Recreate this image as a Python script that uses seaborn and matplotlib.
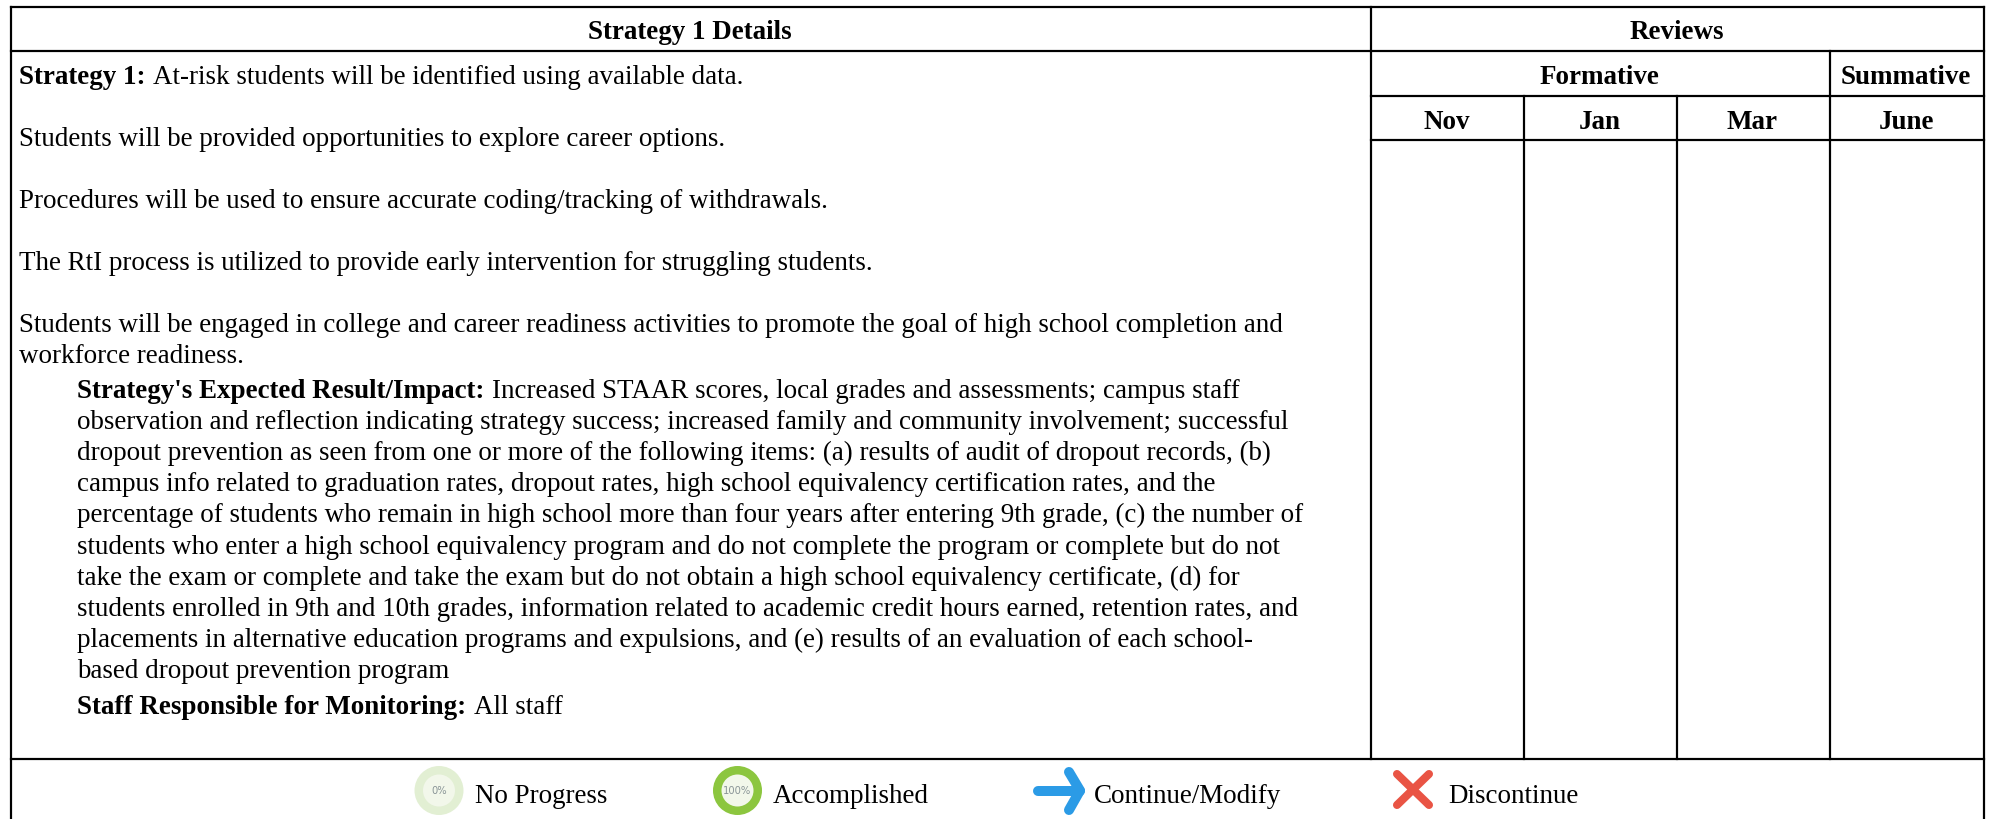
"""Strategy review table drawn on one full-figure axes in pixel coordinates."""

import matplotlib.pyplot as plt
import seaborn as sns
from matplotlib.patches import Circle

WIDTH, HEIGHT = 1993, 819

header_left = "Strategy 1 Details"
header_right = "Reviews"
group_labels = ["Formative", "Summative"]
month_labels = ["Nov", "Jan", "Mar", "June"]

strategy_lines = [
    ("Strategy 1:", "At-risk students will be identified using available data."),
    ("", "Students will be provided opportunities to explore career options."),
    ("", "Procedures will be used to ensure accurate coding/tracking of withdrawals."),
    ("", "The RtI process is utilized to provide early intervention for struggling students."),
    ("", "Students will be engaged in college and career readiness activities to promote the goal of high school completion and"),
    ("", "workforce readiness."),
]
impact_lines = [
    ("Strategy's Expected Result/Impact:", "Increased STAAR scores, local grades and assessments; campus staff"),
    ("", "observation and reflection indicating strategy success; increased family and community involvement; successful"),
    ("", "dropout prevention as seen from one or more of the following items: (a) results of audit of dropout records, (b)"),
    ("", "campus info related to graduation rates, dropout rates, high school equivalency certification rates, and the"),
    ("", "percentage of students who remain in high school more than four years after entering 9th grade, (c) the number of"),
    ("", "students who enter a high school equivalency program and do not complete the program or complete but do not"),
    ("", "take the exam or complete and take the exam but do not obtain a high school equivalency certificate, (d) for"),
    ("", "students enrolled in 9th and 10th grades, information related to academic credit hours earned, retention rates, and"),
    ("", "placements in alternative education programs and expulsions, and (e) results of an evaluation of each school-"),
    ("", "based dropout prevention program"),
]
staff_line = ("Staff Responsible for Monitoring:", "All staff")
legend_labels = ["No Progress", "Accomplished", "Continue/Modify", "Discontinue"]

FONT_SIZE = 19.45
SERIF = "Liberation Serif"

sns.set_theme(style="white")
plt.rcParams["font.family"] = [SERIF, "DejaVu Serif"]

fig = plt.figure(figsize=(WIDTH / 100, HEIGHT / 100), dpi=100, facecolor="white")
ax = fig.add_axes([0, 0, 1, 1])
ax.set_xlim(0, WIDTH)
ax.set_ylim(HEIGHT, 0)
ax.axis("off")
renderer = fig.canvas.get_renderer()


def rule(x0, y0, x1, y1, width=2.2):
    ax.plot([x0, x1], [y0, y1], color="black", lw=width * 0.72, solid_capstyle="projecting")


def mixed_line(x, baseline, bold, regular):
    if bold:
        label = ax.text(x, baseline, bold, fontsize=FONT_SIZE, fontweight="bold", va="baseline", color="black")
        box = label.get_window_extent(renderer)
        x = box.x1 + 8
    ax.text(x, baseline, regular, fontsize=FONT_SIZE, va="baseline", color="black")


# table rules
LEFT, RIGHT, TOP, BOTTOM = 11, 1984, 7, 758.5
rule(LEFT, TOP, RIGHT, TOP)
rule(LEFT, 51, RIGHT, 51)
rule(1371, 96, RIGHT, 96)
rule(1371, 140, RIGHT, 140)
rule(LEFT, BOTTOM, RIGHT, BOTTOM)
rule(LEFT, TOP, LEFT, HEIGHT)
rule(RIGHT, TOP, RIGHT, HEIGHT)
rule(1371, TOP, 1371, BOTTOM)
rule(1830, 51, 1830, BOTTOM)
rule(1524, 96, 1524, BOTTOM)
rule(1677, 96, 1677, BOTTOM)

# headers
header_style = dict(fontsize=FONT_SIZE, fontweight="bold", ha="center", va="baseline", color="black")
ax.text(690, 39, header_left, **header_style)
ax.text(1677, 39, header_right, **header_style)
ax.text(1599, 84, group_labels[0], **header_style)
ax.text(1906, 84, group_labels[1], **header_style)
for center, month in zip([1447, 1600, 1752, 1907], month_labels):
    ax.text(center, 129, month, **header_style)

# body text
strategy_baselines = [84, 146, 208, 270, 332, 363]
for baseline, (bold, regular) in zip(strategy_baselines, strategy_lines):
    mixed_line(19, baseline, bold, regular)
for i, (bold, regular) in enumerate(impact_lines):
    mixed_line(77, 398 + i * 31.1, bold, regular)
mixed_line(77, 714, *staff_line)

# legend icons
ICON_Y = 790.5
for center, ring, tag in [
    (439, "#e2efd3", "0%"),
    (737.5, "#8cc63f", "100%"),
]:
    ax.add_patch(Circle((center, ICON_Y), 24.5, fc=ring, ec="none", zorder=3))
    ax.add_patch(Circle((center, ICON_Y), 16, fc="#f2f7ea", ec="none", zorder=4))
    ax.text(center, ICON_Y, tag, fontsize=7.2, family="DejaVu Sans",
            ha="center", va="center", color="#8a9597", zorder=5)

arrow_style = dict(color="#2b9be6", lw=7.2, solid_capstyle="round", solid_joinstyle="round", zorder=3)
ax.plot([1038, 1080], [ICON_Y, ICON_Y], **arrow_style)
ax.plot([1069, 1080, 1069], [772, ICON_Y, 810], **arrow_style)
cross_style = dict(color="#e95444", lw=5.8, solid_capstyle="round", zorder=3)
ax.plot([1397, 1429], [774, 805], **cross_style)
ax.plot([1429, 1397], [774, 805], **cross_style)

for x, label in zip([475, 773, 1094, 1448], legend_labels):
    ax.text(x, 803, label, fontsize=FONT_SIZE, va="baseline", color="black")

fig.savefig("out.png", dpi=100, facecolor="white")
plt.close(fig)
